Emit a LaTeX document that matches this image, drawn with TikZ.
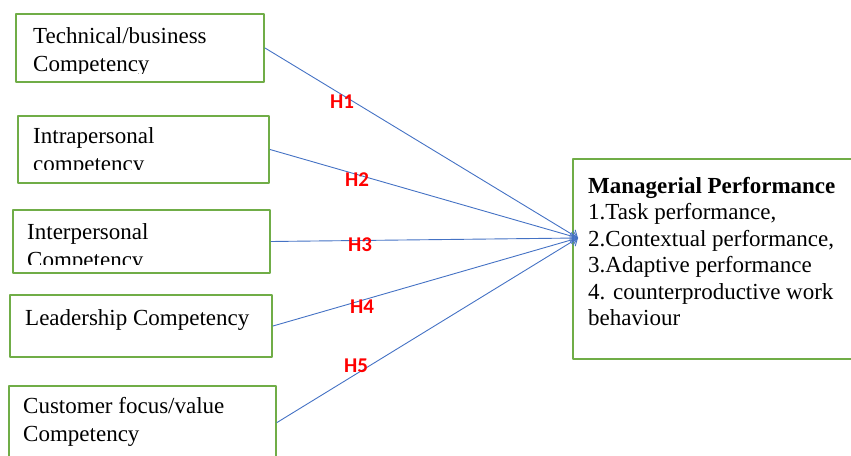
\documentclass[tikz,border=0pt]{standalone}
\usepackage{fontspec}
\setmainfont{Liberation Serif}
\newfontfamily\hfont{Carlito}
\usetikzlibrary{arrows.meta}
\definecolor{boxgreen}{RGB}{112,173,71}
\definecolor{linkblue}{RGB}{68,114,196}
\definecolor{hred}{RGB}{255,0,0}
\tikzset{
  box/.style={draw=boxgreen,line width=2bp,inner sep=0,anchor=north west},
  txt/.style={font=\fontsize{23bp}{28bp}\selectfont,align=left,inner sep=0,anchor=north west},
  link/.style={draw=linkblue,line width=0.9bp,->},
  hyp/.style={text=hred,font=\hfont\bfseries\fontsize{21bp}{24bp}\selectfont,inner sep=0}
}
\begin{document}
\begin{tikzpicture}[line cap=round,line join=round,>={Straight Barb[length=6bp,width=11bp]},x=1bp,y=-1bp]
			\clip(0,0) rectangle (851,456);
			% boxes
			\node[box,minimum width=248bp,minimum height=68bp] (tech) at (15,13) {};
			\node[box,minimum width=251bp,minimum height=67bp] (intra) at (17,115) {};
			\node[box,minimum width=257bp,minimum height=63bp] (inter) at (12,209) {};
			\node[box,minimum width=262bp,minimum height=62bp] (lead) at (9,294) {};
			\node[box,minimum width=267bp,minimum height=73bp] (cust) at (8,385) {};
			\node[box,minimum width=290bp,minimum height=200bp] (perf) at (572,158) {};
			% texts
			\begin{scope}
				\clip (tech.north west) rectangle ([yshift=9bp]tech.south east);
				\node[txt] (techtxt) at ([xshift=18bp,yshift=-14bp]tech.north west) {Technical/business\\Competency};
			\end{scope}
			\begin{scope}
				\clip (intra.north west) rectangle ([yshift=14bp]intra.south east);
				\node[txt] (intratxt) at ([xshift=16bp,yshift=-12bp]intra.north west) {Intrapersonal\\competency};
			\end{scope}
			\begin{scope}
				\clip (inter.north west) rectangle ([yshift=9bp]inter.south east);
				\node[txt] (intertxt) at ([xshift=15bp,yshift=-14bp]inter.north west) {Interpersonal\\Competency};
			\end{scope}
			\node[txt] (leadtxt) at ([xshift=16bp,yshift=-15bp]lead.north west) {Leadership Competency};
			\node[txt] (custtxt) at ([xshift=15bp,yshift=-12bp]cust.north west) {Customer focus/value\\Competency};
			\node[txt,font=\fontsize{23bp}{26.5bp}\selectfont] (perftxt) at ([xshift=16bp,yshift=-19bp]perf.north west)
				{\textbf{Managerial Performance}\\1.Task performance,\\2.Contextual performance,\\3.Adaptive performance\\4. counterproductive work\\behaviour};
			% arrows
			\coordinate (hub) at (578,238);
			\draw[link] (tech.east) -- (hub);
			\draw[link] (intra.east) -- (hub);
			\draw[link] (inter.east) -- (hub);
			\draw[link] (lead.east) -- (hub);
			\draw[link] (cust.east) -- (hub);
			% hypotheses
			\node[hyp] (h1) at (342,102) {H1};
			\node[hyp] (h2) at (357,180) {H2};
			\node[hyp] (h3) at (360,245) {H3};
			\node[hyp] (h4) at (362,307) {H4};
			\node[hyp] (h5) at (356,366) {H5};
		\end{tikzpicture}
\end{document}
